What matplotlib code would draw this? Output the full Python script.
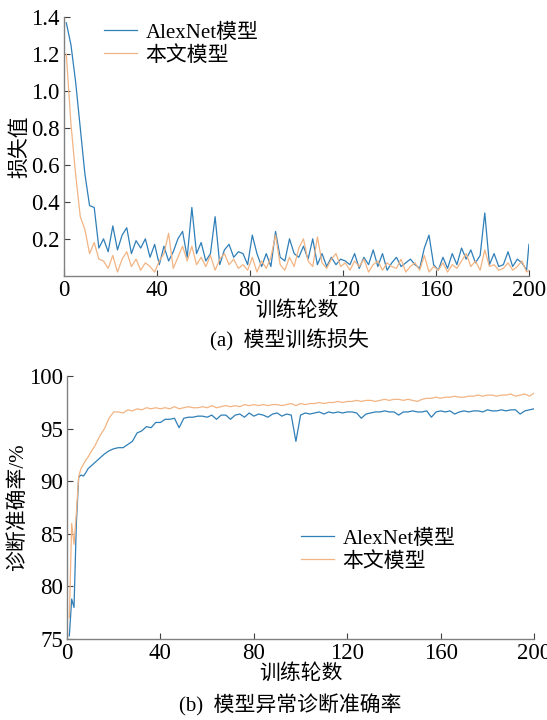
import numpy as np
import matplotlib.pyplot as plt

plt.rcParams['font.family'] = ['Liberation Serif', 'Noto Sans CJK SC']
plt.rcParams['axes.unicode_minus'] = False

# loss curves (every 2nd epoch, plus the last one)
loss_epochs = np.r_[np.arange(1, 200, 2), 200]
loss_alexnet = [1.37, 1.25, 1.05, 0.80, 0.55, 0.38, 0.37, 0.15, 0.20, 0.13,
                0.27, 0.14, 0.22, 0.26, 0.12, 0.19, 0.15, 0.20, 0.10, 0.17,
                0.06, 0.16, 0.08, 0.13, 0.20, 0.24, 0.10, 0.37, 0.12, 0.18,
                0.08, 0.12, 0.32, 0.06, 0.14, 0.17, 0.10, 0.13, 0.12, 0.06,
                0.22, 0.12, 0.05, 0.12, 0.05, 0.24, 0.10, 0.08, 0.20, 0.12,
                0.10, 0.16, 0.09, 0.20, 0.06, 0.12, 0.05, 0.10, 0.06, 0.09,
                0.08, 0.06, 0.12, 0.04, 0.10, 0.06, 0.14, 0.05, 0.12, 0.03,
                0.07, 0.10, 0.05, 0.07, 0.09, 0.06, 0.04, 0.15, 0.22, 0.06,
                0.03, 0.10, 0.04, 0.12, 0.06, 0.15, 0.09, 0.14, 0.07, 0.11,
                0.34, 0.06, 0.12, 0.05, 0.06, 0.13, 0.05, 0.09, 0.07, 0.03,
                0.17]
loss_ours = [1.20, 0.82, 0.55, 0.32, 0.25, 0.12, 0.18, 0.09, 0.08, 0.04,
             0.11, 0.02, 0.09, 0.13, 0.05, 0.09, 0.03, 0.07, 0.05, 0.02,
             0.08, 0.12, 0.23, 0.04, 0.10, 0.16, 0.08, 0.16, 0.06, 0.10,
             0.05, 0.11, 0.03, 0.09, 0.12, 0.06, 0.09, 0.04, 0.06, 0.03,
             0.10, 0.02, 0.08, 0.04, 0.10, 0.22, 0.06, 0.03, 0.10, 0.05,
             0.15, 0.20, 0.08, 0.05, 0.21, 0.07, 0.04, 0.09, 0.12, 0.05,
             0.07, 0.03, 0.08, 0.05, 0.09, 0.02, 0.06, 0.08, 0.03, 0.07,
             0.05, 0.04, 0.09, 0.02, 0.05, 0.07, 0.03, 0.11, 0.02, 0.05,
             0.03, 0.07, 0.02, 0.06, 0.04, 0.08, 0.12, 0.05, 0.08, 0.03,
             0.14, 0.05, 0.06, 0.03, 0.04, 0.07, 0.03, 0.05, 0.08, 0.02,
             0.03]

# accuracy curves
acc_epochs = np.r_[np.arange(1, 11), np.arange(12, 201, 2)]
acc_alexnet = [75.3, 78.8, 78.0, 86.0, 90.4, 90.6, 90.5, 90.8, 91.2, 91.4,
               91.8, 92.2, 92.6, 92.9, 93.1, 93.2, 93.2, 93.5, 93.8, 94.6,
               94.8, 95.2, 95.1, 95.6, 95.6, 95.9, 95.9, 96.0, 95.1, 96.0,
               96.1, 96.1, 96.2, 96.2, 96.1, 96.3, 95.9, 96.3, 96.3, 95.9,
               96.3, 96.4, 96.1, 96.5, 96.2, 96.4, 96.3, 96.1, 96.4, 96.5,
               96.2, 96.4, 96.3, 93.8, 96.3, 96.5, 96.4, 96.5, 96.6, 96.4,
               96.6, 96.5, 96.6, 96.5, 96.6, 96.6, 96.5, 96.0, 96.4, 96.5,
               96.6, 96.6, 96.7, 96.6, 96.6, 96.3, 96.6, 96.6, 96.7, 96.6,
               96.6, 96.7, 96.1, 96.6, 96.7, 96.6, 96.7, 96.4, 96.6, 96.7,
               96.6, 96.7, 96.7, 96.6, 96.8, 96.7, 96.7, 96.8, 96.7, 96.8,
               96.8, 96.4, 96.7, 96.8, 96.9]
acc_ours = [77.0, 86.0, 84.0, 87.0, 90.5, 91.2, 91.6, 92.0, 92.3, 92.7,
            93.4, 94.3, 95.0, 96.0, 96.6, 96.6, 96.5, 96.8, 96.7, 96.9,
            96.8, 97.0, 96.9, 97.0, 96.9, 97.0, 96.9, 97.1, 96.9, 97.0,
            97.1, 97.0, 97.0, 97.1, 97.0, 97.2, 97.0, 97.1, 97.2, 97.1,
            97.2, 97.1, 97.3, 97.2, 97.3, 97.2, 97.3, 97.2, 97.3, 97.3,
            97.2, 97.3, 97.4, 97.2, 97.4, 97.3, 97.4, 97.4, 97.5, 97.4,
            97.5, 97.5, 97.6, 97.5, 97.6, 97.6, 97.7, 97.6, 97.7, 97.7,
            97.6, 97.7, 97.8, 97.7, 97.8, 97.8, 97.7, 97.8, 97.7, 97.6,
            97.8, 97.9, 97.9, 98.0, 97.9, 98.0, 98.0, 98.1, 98.0, 98.0,
            98.1, 98.1, 98.2, 98.1, 98.2, 98.2, 98.1, 98.2, 98.2, 98.3,
            98.1, 98.2, 98.3, 98.1, 98.4]

labels = ['AlexNet模型', '本文模型']
c_blue = '#2f7fb8'
c_orange = '#f2b483'

fig = plt.figure(figsize=(5.47, 7.2), dpi=100)
ax1 = fig.add_axes([0.117, 0.617, 0.850, 0.359])
ax2 = fig.add_axes([0.1225, 0.1125, 0.854, 0.365])


def style(ax):
    for s in ['top', 'right']:
        ax.spines[s].set_visible(False)
    for s in ['left', 'bottom']:
        ax.spines[s].set_color('#808080')
        ax.spines[s].set_linewidth(1.0)
    ax.tick_params(direction='in', length=4, color='#404040', labelsize=16.5, pad=3)
    ax.set_xlim(0, 200)
    ax.set_xticks([0, 40, 80, 120, 160, 200])


ax1.plot(loss_epochs, loss_alexnet, color=c_blue, lw=0.9, label=labels[0])
ax1.plot(loss_epochs, loss_ours, color=c_orange, lw=0.9, label=labels[1])
style(ax1)
ax1.set_ylim(0, 1.4)
ax1.set_yticks([0.2, 0.4, 0.6, 0.8, 1.0, 1.2, 1.4])
ax1.set_yticklabels(['0.2', '0.4', '0.6', '0.8', '1.0', '1.2', '1.4'])
ax1.set_ylabel('损失值', fontsize=15, labelpad=1)
ax1.set_xlabel('训练轮数', fontsize=15, labelpad=0)
ax1.legend(loc='upper left', bbox_to_anchor=(0.045, 1.05), frameon=False,
           fontsize=15, handlelength=1.6, handletextpad=0.4, labelspacing=0.15)

ax2.plot(acc_epochs, acc_alexnet, color=c_blue, lw=0.9, label=labels[0])
ax2.plot(acc_epochs, acc_ours, color=c_orange, lw=0.9, label=labels[1])
style(ax2)
ax2.set_ylim(75, 100)
ax2.set_yticks([75, 80, 85, 90, 95, 100])
ax2.set_ylabel('诊断准确率/%', fontsize=15, labelpad=1)
ax2.set_xlabel('训练轮数', fontsize=15, labelpad=0)
ax2.legend(loc='upper left', bbox_to_anchor=(0.46, 0.49), frameon=False,
           fontsize=15, handlelength=1.6, handletextpad=0.4, labelspacing=0.15)

fig.text(0.53, 0.527, '(a)  模型训练损失', ha='center', va='center', fontsize=15)
fig.text(0.53, 0.020, '(b)  模型异常诊断准确率', ha='center', va='center', fontsize=15)

fig.savefig('out.png', dpi=100)
